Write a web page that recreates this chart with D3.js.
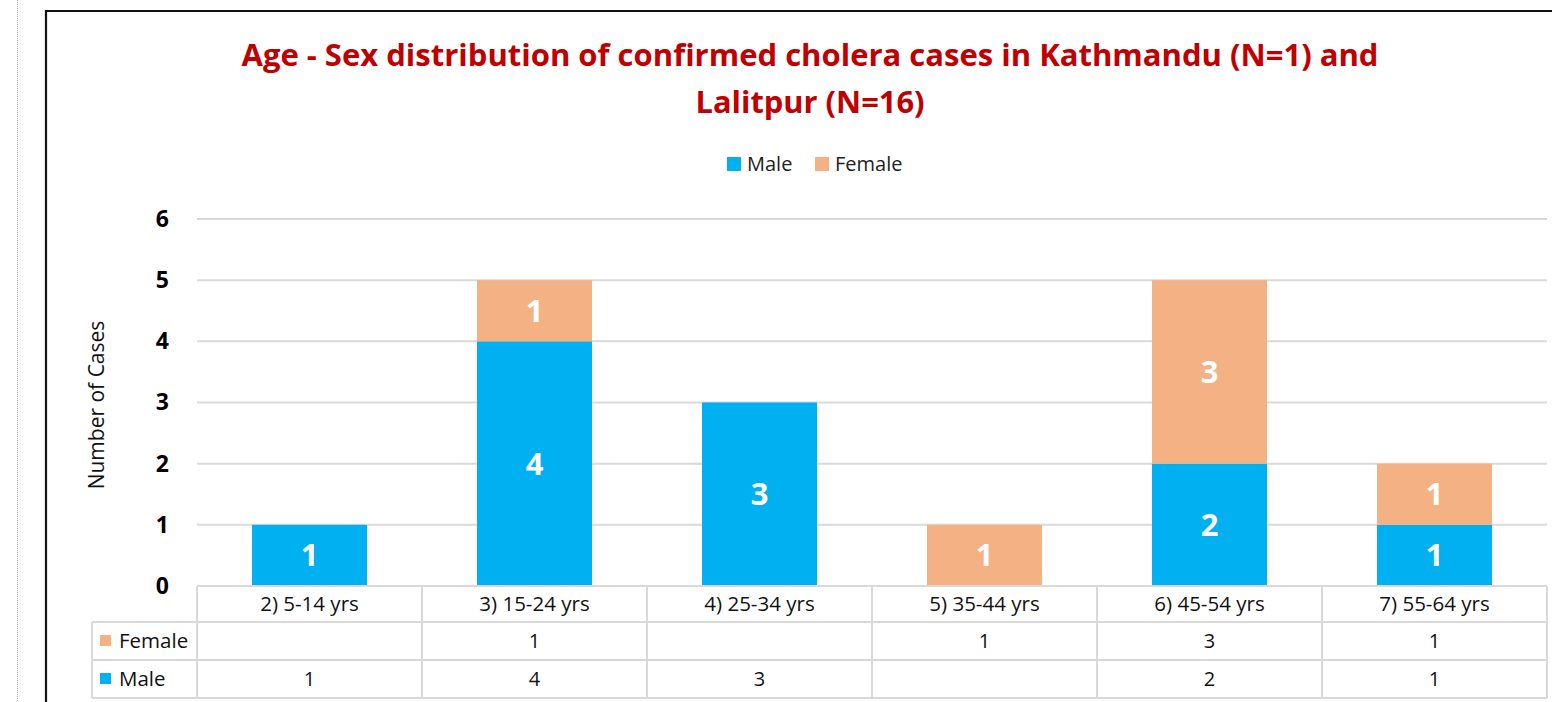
<!DOCTYPE html>
<html><head><meta charset="utf-8">
<script src="https://cdn.jsdelivr.net/npm/d3@7"></script>
<style>html,body{margin:0;padding:0;background:#fff;overflow:hidden;} svg{display:block;font-family:"Open Sans", "Noto Sans", sans-serif;}</style>
</head><body>
<svg id="chart" width="1552" height="702"></svg>
<script>
const categories = ["2) 5-14 yrs","3) 15-24 yrs","4) 25-34 yrs","5) 35-44 yrs","6) 45-54 yrs","7) 55-64 yrs"];
const maleValues = [1,4,3,0,2,1];
const femaleValues = [0,1,0,1,3,1];
const seriesNames = ["Male","Female"];
const seriesColors = ["#00B0F0","#F4B183"];
const yTicks = [0,1,2,3,4,5,6];
const titleLines = ["Age - Sex distribution of confirmed cholera cases in Kathmandu (N=1) and","Lalitpur (N=16)"];

const svg = d3.select("#chart");
// page decorations
svg.append("line").attr("x1",17.5).attr("x2",17.5).attr("y1",0).attr("y2",702)
  .attr("stroke","#aaa").attr("stroke-width",1).attr("stroke-dasharray","1,1");
svg.append("path").attr("d","M46,702 V11 H1560").attr("fill","none").attr("stroke","#111").attr("stroke-width",2.2);

const x = d3.scaleBand().domain(categories).range([197,1547]).paddingInner(0.489).paddingOuter(0.2445);
const y = d3.scaleLinear().domain([0,6]).range([586,219]);

// title
const tY = [66,113];
titleLines.forEach((t,i)=>{
  const el = svg.append("text").attr("x",810).attr("y",tY[i]).attr("text-anchor","middle")
    .attr("fill","#C00000").attr("font-weight","bold").attr("font-size",30).text(t);
  const target = i===0 ? 1137 : 229;
  el.attr("textLength",target).attr("lengthAdjust","spacingAndGlyphs");
});

// legend
const leg = [{n:"Male",c:seriesColors[0],x:727},{n:"Female",c:seriesColors[1],x:815}];
leg.forEach(l=>{
  svg.append("rect").attr("x",l.x).attr("y",157).attr("width",14).attr("height",14).attr("fill",l.c);
  svg.append("text").attr("x",l.x+20).attr("y",171).attr("font-size",20).attr("fill","#222").text(l.n);
});

// gridlines
svg.append("g").selectAll("line").data(yTicks.filter(d=>d>0)).join("line")
  .attr("x1",197).attr("x2",1547).attr("y1",d=>y(d)).attr("y2",d=>y(d))
  .attr("stroke","#D9D9D9").attr("stroke-width",2);

// y axis labels
const yAxis = d3.axisLeft(y).tickValues(yTicks).tickSize(0).tickPadding(28).tickFormat(d3.format("d"));
const ya = svg.append("g").attr("transform","translate(197,0)").call(yAxis);
ya.select(".domain").remove();
ya.selectAll("text").attr("font-size",23).attr("font-weight","bold").attr("fill","#000").attr("font-family","'Open Sans', sans-serif");

// axis title
svg.append("text").attr("transform","translate(104,405) rotate(-90)").attr("text-anchor","middle")
  .attr("font-size",21).attr("fill","#111").text("Number of Cases");

// stacked bars
const data = categories.map((c,i)=>({cat:c, Male:maleValues[i], Female:femaleValues[i]}));
const stack = d3.stack().keys(seriesNames)(data);
stack.forEach((s,si)=>{
  const g = svg.append("g");
  g.selectAll("rect").data(s).join("rect")
    .attr("x",d=>x(d.data.cat)).attr("width",x.bandwidth())
    .attr("y",d=>y(d[1])).attr("height",d=>y(d[0])-y(d[1]))
    .attr("fill",seriesColors[si]);
  g.selectAll("text").data(s.filter(d=>d[1]-d[0]>0)).join("text")
    .attr("x",d=>x(d.data.cat)+x.bandwidth()/2).attr("y",d=>(y(d[0])+y(d[1]))/2+11)
    .attr("text-anchor","middle").attr("fill","#fff").attr("font-weight","bold").attr("font-size",31)
    .text(d=>d[1]-d[0]);
});

// data table
const tc = "#D9D9D9";
const tg = svg.append("g").attr("stroke",tc).attr("stroke-width",2);
tg.append("line").attr("x1",197).attr("x2",1547).attr("y1",586).attr("y2",586);
tg.append("line").attr("x1",92).attr("x2",1547).attr("y1",622).attr("y2",622);
tg.append("line").attr("x1",92).attr("x2",1547).attr("y1",660).attr("y2",660);
tg.append("line").attr("x1",92).attr("x2",1547).attr("y1",698).attr("y2",698);
tg.append("line").attr("x1",92).attr("x2",92).attr("y1",622).attr("y2",698);
const vb = categories.map(c=>x(c)-x.step()*x.paddingInner()/2);
vb.push(1547);
tg.selectAll("line.v").data(vb).join("line").attr("class","v")
  .attr("x1",d=>d).attr("x2",d=>d).attr("y1",586).attr("y2",698);

const cellText = svg.append("g").attr("font-size",20).attr("fill","#111").attr("text-anchor","middle");
cellText.selectAll("text.h").data(categories).join("text").attr("class","h")
  .attr("x",d=>x(d)+x.bandwidth()/2).attr("y",611).attr("font-size",20.5).text(d=>d);
cellText.selectAll("text.f").data(data.filter(d=>d.Female>0)).join("text").attr("class","f")
  .attr("x",d=>x(d.cat)+x.bandwidth()/2).attr("y",648).text(d=>d.Female);
cellText.selectAll("text.m").data(data.filter(d=>d.Male>0)).join("text").attr("class","m")
  .attr("x",d=>x(d.cat)+x.bandwidth()/2).attr("y",686).text(d=>d.Male);

// row legend keys
[{n:"Female",c:seriesColors[1],y:641},{n:"Male",c:seriesColors[0],y:679}].forEach(r=>{
  svg.append("rect").attr("x",100).attr("y",r.y-6).attr("width",11).attr("height",11).attr("fill",r.c);
  svg.append("text").attr("x",119).attr("y",r.y+7).attr("font-size",20.5).attr("fill","#111").text(r.n);
});
</script>
</body></html>
